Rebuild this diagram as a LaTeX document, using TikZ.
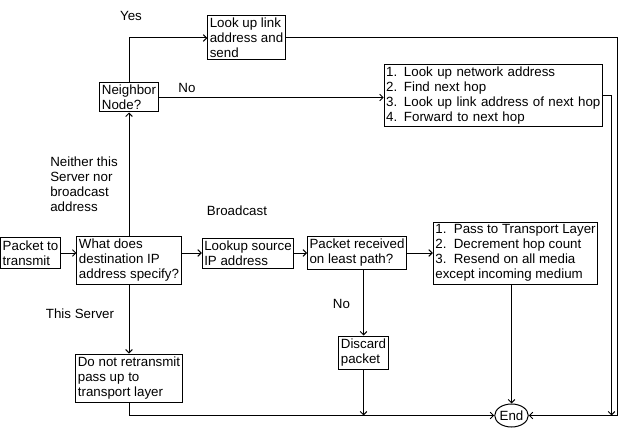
\documentclass[tikz,border=0pt]{standalone}
\usepackage{fontspec}
\setmainfont{Liberation Sans}
\usetikzlibrary{arrows.meta,shapes.geometric}
\tikzset{
  box/.style={draw, line width=0.75pt, align=left, inner xsep=1.5pt, inner ysep=1.5pt,
    font=\fontsize{10}{11.25}\selectfont},
  lbl/.style={align=left, inner sep=0pt, font=\fontsize{10}{11.25}\selectfont},
  flow/.style={->, line width=0.75pt},
}
\begin{document}
\begin{tikzpicture}[x=0.75pt, y=-0.75pt, >={Straight Barb[length=2.5pt,width=5pt]}]
\useasboundingbox (0,0) rectangle (620,438);

% Main row
\node[box, minimum height=23.25pt] (pkt) at (30.5,253) {Packet to\\transmit};
\node[box, minimum height=36pt] (what) at (129,260) {What does\\destination IP\\address specify?};
\node[box, minimum height=22.5pt] (src) at (248,253) {Lookup source\\IP address};
\node[box, minimum height=24.75pt] (recv) at (357,253) {Packet received\\on least path?};
\node[box, minimum height=46.5pt] (bcast) at (515.5,253) {1.~~Pass to Transport Layer\\2.~~Decrement hop count\\3.~~Resend on all media\\except incoming medium};

% Upper branch
\node[box, minimum height=21.75pt] (nbr) at (129,97.5) {Neighbor\\Node?};
\node[box, minimum height=33pt] (send) at (246.5,38) {Look up link\\address and\\send};
\node[box, minimum height=46.5pt, text width=161pt] (route) at (493.5,96) {1. Look up network address\\2. Find next hop\\3. Look up link address of next hop\\4. Forward to next hop};

% Lower branch
\node[box, minimum height=36pt] (local) at (129,378) {Do not retransmit\\pass up to\\transport layer};
\node[box, minimum height=24.75pt] (drop) at (363.5,352.5) {Discard\\packet};
\node[box, ellipse, inner sep=0pt, minimum width=21.75pt, minimum height=17.25pt] (end) at (511.5,415.5) {End};

% Labels
\node[lbl] (yes) at (131,16) {Yes};
\node[lbl] (no1) at (187,88) {No};
\node[lbl, anchor=west] (neither) at (50,184.5) {Neither this\\Server nor\\broadcast\\address};
\node[lbl] (bc) at (237,211) {Broadcast};
\node[lbl] (this) at (80,314) {This Server};
\node[lbl] (no2) at (341.5,304) {No};

% Connectors
\draw[flow] (pkt.east) -- (pkt.east -| what.west);
\draw[flow] (what.east |- src.west) -- (src.west);
\foreach \a/\b in {src/recv, recv/bcast}
  \draw[flow] (\a.east) -- (\b.west);
\draw[flow] (what.north) -- (nbr.south);
\draw[flow] (what.south) -- (local.north);
\draw[flow] (nbr.north) |- (send.west);
\draw[flow] (nbr.east) -- (nbr.east -| route.west);
\draw[flow] (drop.north |- recv.south) -- (drop.north);
\draw[flow] (drop.south) -- (drop.south |- end.west);
\draw[flow] (end.north |- bcast.south) -- (end.north);
\draw[flow] (local.south) |- (end.west);
\coordinate (outer) at (617,415.5);
\coordinate (inner) at (611.5,415.5);
\draw[flow] (send.east) -| (outer) -- (end.east);
\draw[flow] (route.east) -| (inner);
\end{tikzpicture}
\end{document}
